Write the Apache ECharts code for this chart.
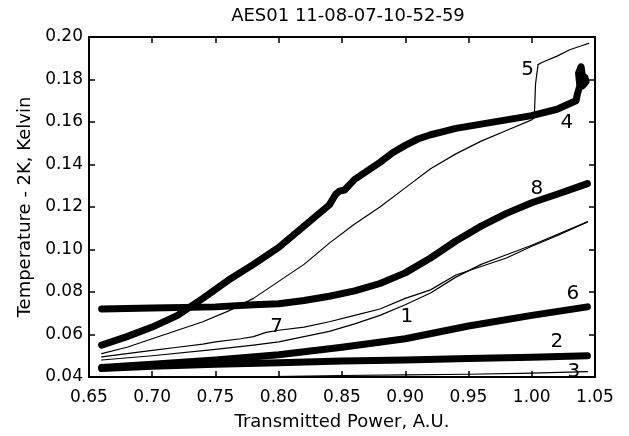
<!DOCTYPE html>
<html>
<head>
<meta charset="utf-8">
<script src="https://cdn.jsdelivr.net/npm/echarts@6/dist/echarts.min.js"></script>
<style>html,body{margin:0;padding:0;background:#fff}#c{width:629px;height:436px}</style>
</head>
<body>
<div id="c"></div>
<script>
const titleText = 'AES01 11-08-07-10-52-59';
const xName = 'Transmitted Power, A.U.';
const yName = 'Temperature - 2K, Kelvin';
const xTicks = [0.65,0.70,0.75,0.80,0.85,0.90,0.95,1.00,1.05];
const yTicks = [0.04,0.06,0.08,0.10,0.12,0.14,0.16,0.18,0.20];

const curve4 = [[0.66,0.055],[0.68,0.059],[0.70,0.0635],[0.72,0.069],[0.74,0.077],[0.76,0.0855],[0.78,0.093],[0.80,0.101],[0.82,0.111],[0.84,0.121],[0.845,0.126],[0.848,0.1275],[0.852,0.128],[0.86,0.133],[0.87,0.137],[0.88,0.141],[0.89,0.1455],[0.90,0.149],[0.91,0.152],[0.92,0.154],[0.93,0.1555],[0.94,0.157],[0.96,0.159],[0.98,0.161],[1.00,0.163],[1.02,0.166],[1.035,0.170],[1.036,0.173],[1.038,0.177],[1.037,0.183],[1.039,0.186],[1.040,0.182],[1.039,0.178],[1.042,0.181],[1.043,0.179],[1.040,0.177]];
const curve5 = [[0.66,0.051],[0.68,0.054],[0.70,0.058],[0.72,0.062],[0.74,0.066],[0.76,0.071],[0.78,0.077],[0.80,0.085],[0.82,0.093],[0.84,0.103],[0.86,0.112],[0.88,0.120],[0.90,0.129],[0.92,0.138],[0.94,0.145],[0.96,0.151],[0.98,0.156],[1.00,0.161],[1.002,0.162],[1.003,0.178],[1.005,0.187],[1.008,0.188],[1.02,0.191],[1.03,0.194],[1.04,0.196],[1.045,0.197]];
const curve8 = [[0.66,0.072],[0.70,0.0725],[0.75,0.073],[0.78,0.074],[0.80,0.0745],[0.82,0.076],[0.84,0.078],[0.86,0.0805],[0.88,0.084],[0.90,0.089],[0.92,0.096],[0.94,0.104],[0.96,0.111],[0.98,0.117],[1.00,0.122],[1.02,0.126],[1.044,0.131]];
const curve7 = [[0.66,0.0495],[0.68,0.051],[0.70,0.0525],[0.72,0.054],[0.74,0.0555],[0.75,0.0565],[0.77,0.058],[0.78,0.059],[0.79,0.061],[0.80,0.062],[0.82,0.0635],[0.84,0.066],[0.86,0.069],[0.88,0.072],[0.90,0.077],[0.92,0.081],[0.94,0.088],[0.96,0.092],[0.98,0.096],[1.00,0.1015],[1.02,0.1065],[1.044,0.113]];
const curve1 = [[0.66,0.048],[0.70,0.050],[0.75,0.053],[0.78,0.055],[0.80,0.0565],[0.82,0.059],[0.84,0.0615],[0.86,0.065],[0.88,0.069],[0.90,0.074],[0.92,0.0795],[0.94,0.087],[0.96,0.093],[0.98,0.0975],[1.00,0.102],[1.02,0.107],[1.044,0.113]];
const curve6 = [[0.66,0.0445],[0.70,0.046],[0.75,0.048],[0.80,0.0505],[0.85,0.054],[0.90,0.058],[0.95,0.064],[1.00,0.069],[1.044,0.073]];
const curve2 = [[0.66,0.044],[0.70,0.045],[0.75,0.046],[0.80,0.0467],[0.85,0.0475],[0.90,0.048],[0.95,0.0487],[1.00,0.0493],[1.044,0.050]];
const curve3 = [[0.77,0.0400],[0.85,0.0407],[0.90,0.0410],[0.95,0.0413],[1.00,0.0418],[1.044,0.0425]];
const curveLabels = [['5',0.9968,0.1845],['4',1.0277,0.1595],['8',1.004,0.1285],['7',0.7983,0.0635],['1',0.9012,0.0682],['6',1.0325,0.079],['2',1.0198,0.0565],['3',1.0333,0.0424]];

const FONT = 'DejaVu Sans';
function line(data, w){
  return {type:'line', data:data, showSymbol:false, symbol:'none', smooth:false,
    lineStyle:{color:'#000', width:w, cap:'round', join:'round'}, xAxisIndex:0, yAxisIndex:0, z:3, animation:false, clip:false};
}
const chart = echarts.init(document.getElementById('c'), null, {renderer:'canvas'});
chart.setOption({
  animation:false,
  backgroundColor:'#fff',
  title:{text:titleText, left:343, top:2, textAlign:'center',
    textStyle:{fontFamily:FONT, fontSize:18, fontWeight:'normal', color:'#000'}},
  grid:{left:89, right:34, top:37, bottom:59},
  xAxis:[
    {type:'value', min:0.65, max:1.05, interval:0.05, position:'bottom',
     name:xName, nameLocation:'middle', nameGap:36,
     nameTextStyle:{fontFamily:FONT, fontSize:18, color:'#000'},
     axisLine:{show:true, onZero:false, lineStyle:{color:'#000', width:2}},
     axisTick:{show:true, inside:true, length:6, lineStyle:{color:'#000', width:1.5}},
     axisLabel:{fontFamily:FONT, fontSize:17, color:'#000', margin:12, formatter:v=>v.toFixed(2)},
     splitLine:{show:false}},
    {type:'value', min:0.65, max:1.05, interval:0.05, position:'top',
     axisLine:{show:true, onZero:false, lineStyle:{color:'#000', width:2}},
     axisTick:{show:true, inside:true, length:6, lineStyle:{color:'#000', width:1.5}},
     axisLabel:{show:false}, splitLine:{show:false}}
  ],
  yAxis:[
    {type:'value', min:0.04, max:0.20, interval:0.02, position:'left',
     name:yName, nameLocation:'middle', nameGap:51, nameRotate:90,
     nameTextStyle:{fontFamily:FONT, fontSize:18, color:'#000'},
     axisLine:{show:true, onZero:false, lineStyle:{color:'#000', width:2}},
     axisTick:{show:true, inside:true, length:6, lineStyle:{color:'#000', width:1.5}},
     axisLabel:{fontFamily:FONT, fontSize:17, color:'#000', margin:6, formatter:v=>v.toFixed(2)},
     splitLine:{show:false}},
    {type:'value', min:0.04, max:0.20, interval:0.02, position:'right',
     axisLine:{show:true, onZero:false, lineStyle:{color:'#000', width:2}},
     axisTick:{show:true, inside:true, length:6, lineStyle:{color:'#000', width:1.5}},
     axisLabel:{show:false}, splitLine:{show:false}}
  ],
  series:[
    line(curve3,1.2),
    line(curve1,1.2),
    line(curve7,1.2),
    line(curve5,1.2),
    line(curve2,7),
    line(curve6,7),
    line(curve8,7),
    line(curve4,7),
    {type:'scatter', data:curveLabels.map(d=>({value:[d[1],d[2]], name:d[0]})), symbolSize:1, z:5,
     itemStyle:{opacity:1, color:'transparent'},
     label:{show:true, position:'inside', opacity:1, formatter:p=>p.name, fontFamily:FONT, fontSize:20, color:'#000'}, silent:true}
  ]
});
</script>
</body>
</html>
